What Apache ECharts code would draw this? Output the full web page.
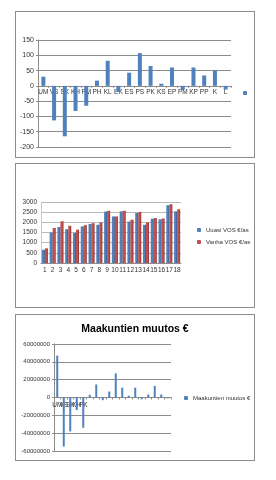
<!DOCTYPE html>
<html>
<head>
<meta charset="utf-8">
<script src="https://cdn.jsdelivr.net/npm/echarts@6/dist/echarts.min.js"></script>
<style>
  body { margin: 0; background: #fff; width: 276px; height: 480px; position: relative; font-family: "Liberation Sans", Arial, sans-serif; }
  .frame { position: absolute; left: 15px; width: 240px; border: 1px solid #8c8c8c; box-sizing: border-box; background: #fff; }
</style>
</head>
<body>
<div id="c1" class="frame" style="top:11px;height:147px"></div>
<div id="c2" class="frame" style="top:163px;height:145px"></div>
<div id="c3" class="frame" style="top:314px;height:147px"></div>
<script>
// kaavio 1: muutos per alue
var areaLabels = ['UM', 'VS', 'SK', 'KH', 'PM', 'PH', 'KL', 'EK', 'ES', 'PS', 'PK', 'KS', 'EP', 'PM', 'KP', 'PP', 'K', 'L'];
var areaChange = [30, -113, -165, -82, -65, 17, 82, -20, 43, 107, 65, 7, 60, -13, 60, 34, 50, -12];

// kaavio 2: VOS €/as
var vosLabels = ['1', '2', '3', '4', '5', '6', '7', '8', '9', '10', '11', '12', '13', '14', '15', '16', '17', '18'];
var vosNew = [650, 1500, 1770, 1660, 1480, 1800, 1920, 1880, 2530, 2290, 2540, 2040, 2460, 1880, 2180, 2150, 2840, 2540];
var vosOld = [720, 1720, 2050, 1830, 1640, 1860, 1960, 1990, 2570, 2290, 2570, 2130, 2510, 1990, 2210, 2190, 2890, 2640];

// kaavio 3: maakuntien muutos €
var regionLabels = ['UM', 'VS', 'SK', 'KH', 'PK', '', '', '', '', '', '', '', '', '', '', '', '', ''];
var regionChange = [47000000, -55000000, -38000000, -14000000, -34000000, 3000000, 14600000, -3000000, 6700000,
  27000000, 11000000, 2000000, 11000000, -2000000, 3400000, 13000000, 3400000, -1000000];

var blue = '#4F81BD';
var red = '#C0504D';
var gridColor = '#8c8c8c';
var txt = '#333';

function idx(arr) {
  return arr.map(function (v, i) { return String(i); });
}
function plain(v) { return String(v); }
// siirretään x-akseli nollakohtaan (onZero ei toimi tässä)
function zeroOffset(chart, grid, min, max) {
  var h = chart.getHeight() - grid.top - grid.bottom;
  return -(0 - min) / (max - min) * h;
}

// --- kaavio 1
var chart1 = echarts.init(document.getElementById('c1'));
var grid1 = { left: 22, right: 23, top: 28, bottom: 10 };
chart1.setOption({
  animation: false,
  grid: grid1,
  legend: {
    data: [' '], left: 227, top: 79, padding: 0, itemWidth: 4, itemHeight: 4,
    formatter: function () { return ''; },
    textStyle: { fontSize: 1 }
  },
  xAxis: {
    type: 'category',
    data: idx(areaLabels),
    offset: zeroOffset(chart1, grid1, -200, 150),
    axisLine: { onZero: false, lineStyle: { color: gridColor } },
    axisTick: { show: true, lineStyle: { color: gridColor }, length: 2 },
    axisLabel: {
      interval: 0, fontSize: 6.5, color: txt, margin: 3, hideOverlap: false,
      formatter: function (v, i) { return areaLabels[i]; }
    }
  },
  yAxis: {
    type: 'value', min: -200, max: 150, interval: 50,
    axisLine: { show: true, lineStyle: { color: gridColor } },
    axisTick: { show: true, length: 2, lineStyle: { color: gridColor } },
    axisLabel: { fontSize: 7, color: txt, margin: 4, formatter: plain },
    splitLine: { lineStyle: { color: gridColor } }
  },
  series: [{
    name: ' ', type: 'bar', data: areaChange, barWidth: 4,
    itemStyle: { color: blue }
  }]
});

// --- kaavio 2
var chart2 = echarts.init(document.getElementById('c2'));
function shade(c1, c2) {
  return new echarts.graphic.LinearGradient(0, 0, 1, 0, [
    { offset: 0, color: c1 }, { offset: 0.6, color: c1 }, { offset: 1, color: c2 }
  ]);
}
chart2.setOption({
  animation: false,
  grid: { left: 25, right: 73, top: 38, bottom: 44 },
  legend: {
    orient: 'vertical', left: 181, top: 63, padding: 0, itemWidth: 4, itemHeight: 4, itemGap: 6,
    textStyle: { fontSize: 6, color: txt },
    data: [
      { name: 'Uuasi VOS €/as', itemStyle: { color: blue } },
      { name: 'Vanha VOS €/as', itemStyle: { color: red } }
    ]
  },
  xAxis: {
    type: 'category', data: vosLabels,
    axisLine: { lineStyle: { color: gridColor } },
    axisTick: { show: false },
    axisLabel: { interval: 0, fontSize: 6.5, color: txt, margin: 4, hideOverlap: false }
  },
  yAxis: {
    type: 'value', min: 0, max: 3000, interval: 500,
    axisLine: { show: true, lineStyle: { color: '#c8c8c8' } },
    axisLabel: { fontSize: 6.5, color: txt, margin: 4, formatter: plain },
    splitLine: { lineStyle: { color: '#b8b8b8' } }
  },
  series: [
    {
      name: 'Uuasi VOS €/as', type: 'bar', data: vosNew, barGap: '0%', barCategoryGap: '22%',
      itemStyle: { color: shade(blue, '#2f5180') }
    },
    {
      name: 'Vanha VOS €/as', type: 'bar', data: vosOld,
      itemStyle: { color: shade(red, '#86302e') }
    }
  ]
});

// --- kaavio 3
var chart3 = echarts.init(document.getElementById('c3'));
var grid3 = { left: 38, right: 83, top: 29, bottom: 9 };
chart3.setOption({
  animation: false,
  title: {
    text: 'Maakuntien muutos €', left: 'center', top: 4,
    textStyle: { fontSize: 10.5, fontWeight: 'bold', color: '#000' }
  },
  grid: grid3,
  legend: {
    data: ['Maakuntien muutos €'], left: 168, top: 80, padding: 0, itemWidth: 4, itemHeight: 4,
    textStyle: { fontSize: 6, color: txt }
  },
  xAxis: {
    type: 'category', data: idx(regionLabels),
    offset: zeroOffset(chart3, grid3, -60000000, 60000000),
    axisLine: { onZero: false, lineStyle: { color: gridColor } },
    axisTick: { show: true, length: 2, lineStyle: { color: gridColor } },
    axisLabel: {
      interval: 0, fontSize: 6.5, color: txt, margin: 4, hideOverlap: false,
      formatter: function (v, i) { return regionLabels[i]; }
    }
  },
  yAxis: {
    type: 'value', min: -60000000, max: 60000000, interval: 20000000,
    axisLine: { show: true, lineStyle: { color: gridColor } },
    axisTick: { show: true, length: 2, lineStyle: { color: gridColor } },
    axisLabel: { fontSize: 6, color: txt, margin: 4, formatter: plain },
    splitLine: { lineStyle: { color: gridColor } }
  },
  series: [{
    name: 'Maakuntien muutos €', type: 'bar', data: regionChange, barWidth: 2,
    itemStyle: { color: blue }
  }]
});
</script>
</body>
</html>
